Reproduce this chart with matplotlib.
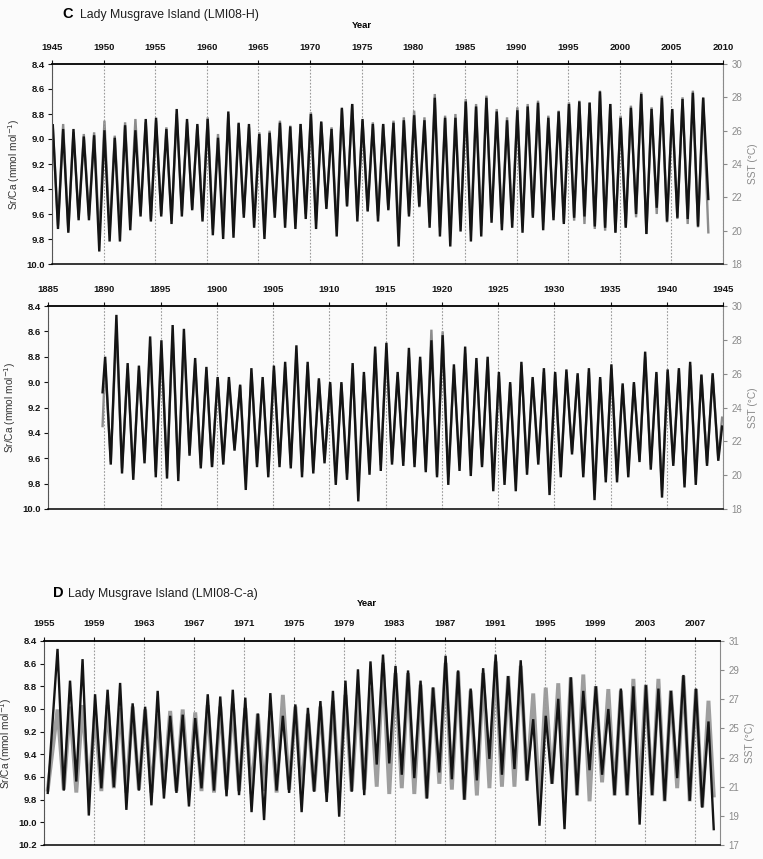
import matplotlib.pyplot as plt
import numpy as np

plt.rcParams["font.family"] = ["Liberation Sans", "DejaVu Sans"]

# ---------------------------------------------------------------------------
# Panel C (upper): LMI08-H, 1945-2008. One summer (Sr/Ca minimum, SST maximum)
# and one winter (Sr/Ca maximum, SST minimum) value per year.
# ---------------------------------------------------------------------------
c1_years = list(range(1945, 2009))
c1_srca_summer = [
    8.89, 8.92, 8.92, 8.98, 8.97, 8.93, 8.99, 8.89, 8.93, 8.84, 8.83, 8.92, 8.76, 8.84, 8.88, 8.84,
    8.99, 8.78, 8.87, 8.88, 8.96, 8.95, 8.87, 8.90, 8.88, 8.80, 8.86, 8.92, 8.75, 8.72, 8.84, 8.88, 8.88,
    8.87, 8.85, 8.81, 8.85, 8.67, 8.83, 8.83, 8.70, 8.74, 8.67, 8.78, 8.85, 8.77, 8.74, 8.71, 8.83,
    8.78, 8.72, 8.70, 8.71, 8.62, 8.72, 8.83, 8.75, 8.64, 8.76, 8.67, 8.76, 8.68, 8.63, 8.67,
]
c1_srca_winter = [
    9.72, 9.75, 9.65, 9.65, 9.90, 9.82, 9.82, 9.73, 9.62, 9.66, 9.62, 9.68, 9.62, 9.57, 9.66, 9.77,
    9.80, 9.79, 9.63, 9.71, 9.80, 9.63, 9.71, 9.72, 9.64, 9.72, 9.56, 9.78, 9.54, 9.66, 9.58, 9.66,
    9.57, 9.86, 9.62, 9.54, 9.71, 9.78, 9.86, 9.74, 9.82, 9.78, 9.67, 9.73, 9.71, 9.75, 9.63, 9.73, 9.65,
    9.68, 9.63, 9.62, 9.70, 9.71, 9.75, 9.71, 9.60, 9.76, 9.55, 9.66, 9.63, 9.64, 9.70, 9.48,
]
c1_sst_summer = [
    26.2, 26.4, 25.9, 25.8, 25.9, 26.6, 25.7, 26.5, 26.7, 26.5, 26.6, 26.2, 27.0, 26.5, 26.3, 26.8,
    25.8, 27.0, 26.4, 26.2, 25.9, 26.0, 26.6, 26.3, 26.4, 27.1, 26.5, 26.2, 27.3, 27.6, 26.6, 26.5, 26.4,
    26.6, 26.8, 27.2, 26.8, 28.2, 26.9, 27.0, 27.9, 27.6, 28.1, 27.3, 26.8, 27.4, 27.6, 27.8, 26.9,
    27.2, 27.7, 27.8, 27.7, 28.4, 27.6, 26.9, 27.5, 28.3, 27.4, 28.1, 27.3, 28.0, 28.4, 28.0,
]
c1_sst_winter = [
    20.3, 20.0, 20.8, 20.9, 19.6, 19.9, 20.2, 20.6, 21.1, 20.7, 21.0, 20.6, 21.2, 21.3, 20.8, 20.1,
    20.2, 20.3, 21.0, 20.6, 20.3, 21.1, 20.7, 20.5, 21.0, 20.6, 21.4, 20.3, 21.5, 20.9, 21.2, 20.9,
    21.3, 19.8, 21.0, 21.4, 20.5, 20.2, 19.9, 20.4, 20.0, 20.3, 20.8, 20.4, 20.6, 20.3, 20.9, 20.5, 20.8,
    20.5, 20.6, 20.4, 20.1, 20.0, 19.9, 20.2, 20.8, 19.8, 21.0, 20.5, 20.7, 20.4, 20.2, 19.9,
]

# ---------------------------------------------------------------------------
# Panel C (lower): LMI08-H, 1890-1944
# ---------------------------------------------------------------------------
c2_years = list(range(1890, 1945))
c2_start = (1889.85, 9.08, 22.9)   # year, Sr/Ca, SST
c2_end = (1944.92, 9.35, 23.4)
c2_srca_summer = [
    8.80, 8.47, 8.85, 8.87, 8.64, 8.67, 8.55, 8.58, 8.81, 8.88, 8.96, 8.96, 9.02, 8.89, 8.96,
    8.87, 8.84, 8.71, 8.84, 8.97, 9.00, 9.00, 8.85, 8.92, 8.72,
    8.69, 8.92, 8.73, 8.80, 8.67, 8.63, 8.86, 8.72, 8.81, 8.80, 8.92, 9.00, 8.84, 8.96, 8.89,
    8.92, 8.90, 8.93, 8.89, 8.96, 8.86, 9.01, 9.00, 8.76, 8.92, 8.90, 8.89, 8.84, 8.94, 8.93,
]
c2_srca_winter = [
    9.65, 9.72, 9.77, 9.64, 9.75, 9.76, 9.78, 9.58, 9.68, 9.67, 9.65, 9.54, 9.85, 9.67, 9.75,
    9.67, 9.68, 9.75, 9.72, 9.64, 9.81, 9.77, 9.94, 9.73, 9.70,
    9.65, 9.66, 9.67, 9.71, 9.75, 9.81, 9.70, 9.74, 9.67, 9.86, 9.81, 9.86, 9.73, 9.65, 9.89,
    9.75, 9.57, 9.75, 9.93, 9.79, 9.79, 9.75, 9.63, 9.69, 9.91, 9.66, 9.83, 9.81, 9.66, 9.62,
]
c2_sst_summer = [
    26.6, 28.7, 26.3, 26.2, 27.6, 27.5, 28.2, 28.0, 26.6, 26.2, 25.7, 25.6, 25.3, 26.0, 25.6,
    26.2, 26.4, 27.2, 26.5, 25.6, 25.4, 25.4, 26.3, 25.9, 27.2,
    27.3, 25.9, 27.0, 26.8, 28.6, 28.5, 26.3, 27.2, 26.6, 26.8, 25.9, 25.4, 26.5, 25.7, 26.1,
    26.0, 26.1, 25.9, 26.1, 25.7, 26.3, 25.3, 25.4, 27.0, 26.0, 26.1, 26.2, 26.5, 25.9, 25.9,
]
c2_sst_winter = [
    20.8, 20.4, 20.1, 20.9, 20.2, 20.3, 20.1, 21.3, 20.6, 20.5, 20.8, 21.6, 19.8, 20.7, 20.2,
    20.7, 20.6, 20.2, 20.3, 20.9, 19.9, 20.1, 19.4, 20.3, 20.6,
    20.8, 20.8, 20.7, 20.3, 20.0, 19.9, 20.6, 20.3, 20.6, 19.6, 19.9, 19.6, 20.4, 20.9, 19.6,
    20.2, 21.4, 20.1, 19.1, 19.9, 20.0, 20.3, 20.9, 20.6, 19.1, 20.7, 19.5, 19.9, 20.7, 21.0,
]

# ---------------------------------------------------------------------------
# Panel D: LMI08-C-a, 1955-2008
# ---------------------------------------------------------------------------
d_summer_years = list(range(1956, 2009))
d_winter_years = list(range(1956, 2008))
d_start = (1955.3, 9.74, 20.8)
d_end = (2008.5, 10.06, 20.4)
d_srca_summer = [
    8.47, 8.75, 8.56, 8.87, 8.83, 8.77, 8.95, 8.98, 8.84, 9.06, 9.05, 9.08, 8.87,
    8.89, 8.83, 8.90, 9.04, 8.86, 9.06, 8.96, 8.99, 8.93, 8.84, 8.75, 8.65, 8.58,
    8.52, 8.62, 8.66, 8.75, 8.81, 8.53, 8.66, 8.82, 8.64, 8.52, 8.71, 8.57, 9.09, 9.06,
    8.91, 8.72, 8.84, 8.80, 9.00, 8.82, 8.80, 8.79, 8.82, 8.84, 8.70, 8.82, 9.11,
]
d_srca_winter = [
    9.72, 9.64, 9.94, 9.70, 9.69, 9.89, 9.72, 9.85, 9.79, 9.74, 9.86, 9.70, 9.72,
    9.77, 9.76, 9.91, 9.98, 9.72, 9.74, 9.91, 9.73, 9.82, 9.95, 9.73, 9.76,
    9.49, 9.48, 9.58, 9.61, 9.79, 9.56, 9.62, 9.80, 9.63, 9.44, 9.58, 9.53, 9.63, 10.03,
    9.66, 10.06, 9.76, 9.54, 9.58, 9.76, 9.76, 10.02, 9.76, 9.81, 9.61, 9.81, 9.87,
]
d_sst_summer = [
    26.3, 26.5, 26.6, 26.0, 26.6, 26.4, 26.5, 26.3, 26.0, 26.2, 26.3, 26.1, 26.6,
    26.5, 26.7, 26.4, 26.0, 26.2, 27.3, 26.5, 26.0, 26.5, 26.9, 27.3, 27.5, 27.8,
    29.5, 28.8, 28.8, 28.0, 27.8, 29.5, 28.9, 27.6, 28.8, 29.6, 28.6, 29.3, 27.4, 27.8,
    28.1, 28.5, 28.7, 27.9, 27.7, 27.6, 28.4, 28.0, 28.4, 27.6, 28.6, 27.7, 26.9,
]
d_sst_winter = [
    20.8, 20.6, 20.8, 20.7, 20.9, 20.6, 20.8, 20.6, 20.9, 20.7, 20.5, 20.7, 20.6,
    20.8, 20.7, 20.5, 20.7, 20.6, 20.8, 20.5, 20.7, 20.6, 20.6, 20.7, 20.8,
    21.0, 20.5, 20.9, 20.5, 20.2, 21.2, 20.8, 20.1, 20.4, 20.9, 21.0, 21.0, 21.4, 19.8,
    21.2, 19.9, 20.4, 20.0, 21.3, 20.4, 20.4, 20.5, 20.4, 20.0, 20.9, 20.0, 19.6,
]

BLACK = "#141414"
GRAY = "#8c8c8c"
W, H = 763, 859


def seasonal_series(summer_years, summer_vals, winter_years, winter_vals, extra=()):
    """Interleave summer (early-year) and winter (mid-year) values in time order."""
    t = [y + 0.08 for y in summer_years] + [y + 0.58 for y in winter_years]
    v = list(summer_vals) + list(winter_vals)
    for year, val in extra:
        t.append(year)
        v.append(val)
    order = np.argsort(t)
    return np.asarray(t)[order], np.asarray(v)[order]


def px_rect(left, top, right, bottom):
    return [left / W, 1 - bottom / H, (right - left) / W, (bottom - top) / H]


def draw_panel(fig, rect, srca, sst, xlim, xticks, srca_lim, srca_ticks,
               sst_lim, sst_ticks, gray_lw, gray_color):
    ax = fig.add_axes(rect)
    ax2 = ax.twinx()
    ax.set_zorder(ax2.get_zorder() + 1)
    ax.patch.set_visible(False)

    ax2.plot(*sst, color=gray_color, lw=gray_lw, solid_joinstyle="miter")
    ax.plot(*srca, color=BLACK, lw=1.7, solid_joinstyle="miter")

    ax.set_xlim(*xlim)
    ax.set_xticks(xticks)
    ax.set_xticklabels([str(x) for x in xticks])
    ax.xaxis.tick_top()
    ax.tick_params(axis="x", direction="out", length=3, width=0.8, pad=6,
                   labelsize=6.8, colors=BLACK)
    for lbl in ax.get_xticklabels():
        lbl.set_fontweight("bold")
    ax.grid(axis="x", color="#9a9a9a", linestyle=(0, (1.5, 1.5)), lw=0.8)

    ax.set_ylim(srca_lim[1], srca_lim[0])
    ax.set_yticks(srca_ticks)
    ax.set_yticklabels([f"{v:.1f}" for v in srca_ticks])
    ax.tick_params(axis="y", direction="out", length=3, width=0.8, pad=2,
                   labelsize=6.8, colors=BLACK)
    for lbl in ax.get_yticklabels():
        lbl.set_fontweight("bold")
    ax.set_ylabel("Sr/Ca (mmol mol$^{-1}$)", fontsize=7.3, color="#333333", labelpad=3)

    ax2.set_ylim(*sst_lim)
    ax2.set_yticks(sst_ticks)
    ax2.tick_params(axis="y", direction="out", length=3, width=0.8, pad=3,
                    labelsize=7, colors="#8a8a8a")
    ax2.set_ylabel("SST (°C)", fontsize=7.3, color="#8a8a8a", labelpad=4)

    for name in ("top", "bottom", "left"):
        ax2.spines[name].set_visible(False)
    ax.spines["right"].set_visible(False)
    ax2.spines["right"].set_color("#8a8a8a")
    ax2.spines["right"].set_linewidth(0.8)
    ax.spines["top"].set_linewidth(1.3)
    ax.spines["bottom"].set_linewidth(1.1)
    ax.spines["left"].set_linewidth(0.8)
    ax.spines["left"].set_color("#555555")
    return ax, ax2


fig = plt.figure(figsize=(W / 100, H / 100), dpi=100, facecolor="#fbfbfb")

# Panel C, upper part
c1_srca = seasonal_series(c1_years, c1_srca_summer, c1_years, c1_srca_winter)
c1_sst = seasonal_series(c1_years, c1_sst_summer, c1_years, c1_sst_winter)
draw_panel(fig, px_rect(52, 64, 723, 264), c1_srca, c1_sst,
           (1945, 2010), list(range(1945, 2011, 5)),
           (8.4, 10.0), np.round(np.arange(8.4, 10.01, 0.2), 1),
           (18, 30), list(range(18, 31, 2)), 1.7, "#8c8c8c")

# Panel C, lower part
c2_srca = seasonal_series(c2_years, c2_srca_summer, c2_years, c2_srca_winter,
                          [c2_start[:2], c2_end[:2]])
c2_sst = seasonal_series(c2_years, c2_sst_summer, c2_years, c2_sst_winter,
                         [(c2_start[0], c2_start[2]), (c2_end[0], c2_end[2])])
draw_panel(fig, px_rect(48, 306, 723, 509), c2_srca, c2_sst,
           (1885, 1945), list(range(1885, 1946, 5)),
           (8.4, 10.0), np.round(np.arange(8.4, 10.01, 0.2), 1),
           (18, 30), list(range(18, 31, 2)), 1.7, "#8c8c8c")

# Panel D
d_srca = seasonal_series(d_summer_years, d_srca_summer, d_winter_years, d_srca_winter,
                         [d_start[:2], d_end[:2]])
d_sst = seasonal_series(d_summer_years, d_sst_summer, d_winter_years, d_sst_winter,
                        [(d_start[0], d_start[2]), (d_end[0], d_end[2])])
draw_panel(fig, px_rect(44, 641, 720, 845), d_srca, d_sst,
           (1955, 2009), list(range(1955, 2008, 4)),
           (8.4, 10.2), np.round(np.arange(8.4, 10.21, 0.2), 1),
           (17, 31), list(range(17, 32, 2)), 2.8, "#9e9e9e")

# Panel letters, titles and the shared "Year" labels
fig.text(62 / W, 1 - 14 / H, "C", fontsize=10.5, fontweight="bold", va="center")
fig.text(80 / W, 1 - 15 / H, "Lady Musgrave Island (LMI08-H)", fontsize=8.8,
         va="center", color="#1e1e1e")
fig.text(362 / W, 1 - 26 / H, "Year", fontsize=6.8, fontweight="bold",
         ha="center", va="center")

fig.text(53 / W, 1 - 593 / H, "D", fontsize=10.5, fontweight="bold", va="center")
fig.text(68 / W, 1 - 594 / H, "Lady Musgrave Island (LMI08-C-a)", fontsize=8.8,
         va="center", color="#1e1e1e")
fig.text(367 / W, 1 - 603 / H, "Year", fontsize=6.8, fontweight="bold",
         ha="center", va="center")

fig.savefig("out.png", dpi=100, facecolor=fig.get_facecolor())
